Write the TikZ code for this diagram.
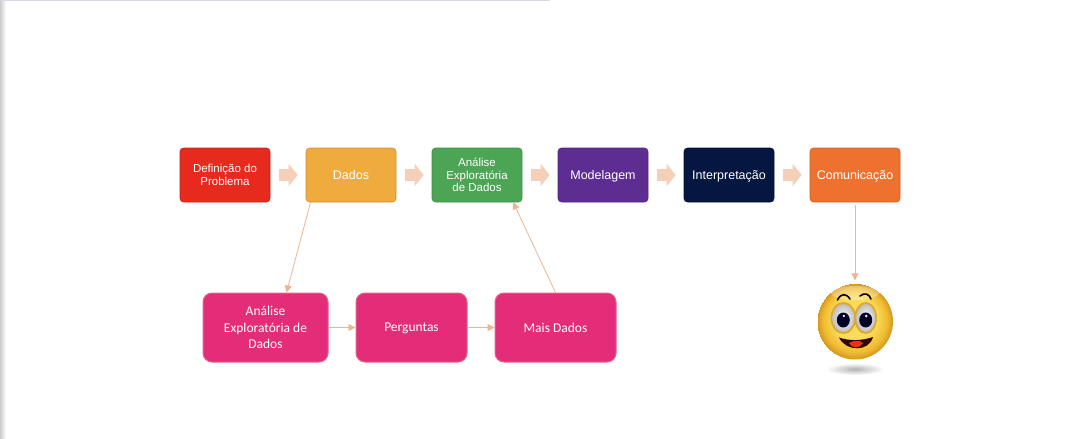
\documentclass[tikz,border=0pt]{standalone}
\usepackage{fontspec}
\setmainfont{Liberation Sans}
\newfontfamily\bottomfont{Carlito}
\usepackage{xcolor}
\usetikzlibrary{
    arrows.meta,
    shapes.geometric
}
\definecolor{boxred}{HTML}{E62A1E}
\definecolor{boxyellow}{HTML}{F0AB3F}
\definecolor{boxgreen}{HTML}{4CA455}
\definecolor{boxpurple}{HTML}{5E2D91}
\definecolor{boxnavy}{HTML}{051641}
\definecolor{boxorange}{HTML}{EE7130}
\definecolor{boxpink}{HTML}{E32D78}
\definecolor{peach}{HTML}{F6CFB8}
\definecolor{linepeach}{HTML}{EBB592}
\definecolor{ballmid}{HTML}{FADC5A}
\definecolor{ballout}{HTML}{F0BC32}
\definecolor{ballrim}{HTML}{D3961E}
\definecolor{eyerim}{HTML}{DDA92F}
\pgfdeclareradialshading{smileyball}{\pgfpoint{0bp}{5bp}}{
    color(0bp)=(ballmid);
    color(14bp)=(ballmid);
    color(21bp)=(ballout);
    color(25bp)=(ballrim)
}

\begin{document}
\begin{tikzpicture}[
    x=1pt, y=-1pt,
    stepbox/.style={rectangle, rounded corners=3.5pt, draw=#1!85!black, fill=#1, line width=0.6pt,
        text=white, align=center, minimum width=90pt, minimum height=54pt, inner sep=0pt,
        font=\fontsize{11.5}{12.5}\selectfont},
    oneline/.style={font=\fontsize{12.5}{13}\selectfont, text height=9pt, text depth=1pt},
    pinkbox/.style={rectangle, rounded corners=9pt, draw=boxpink!60!linepeach, fill=boxpink, line width=1pt,
        text=white, align=center, minimum height=69pt, inner sep=0pt,
        font=\bottomfont\fontsize{13.5}{16.5}\selectfont},
    blockarrow/.style={-{Triangle[length=9pt, width=22pt]}, line width=12pt, draw=peach,
        shorten <=9pt, shorten >=8pt},
    thinarrow/.style={-{Triangle[length=7pt, width=7pt]}, draw=linepeach, line width=0.8pt}
]
\useasboundingbox (0,0) rectangle (1071,439);

% Edge of the screenshot
\shade[left color=black!20, right color=white] (0,0) rectangle (6,439);
\fill[blue!30!black!15] (0,0) rectangle (550,1);

% Top row
\node[stepbox=boxred] (step-1) at (225, 175) {Definição do\\Problema};
\node[stepbox=boxyellow, oneline] (step-2) at (351, 175) {Dados};
\node[stepbox=boxgreen] (step-3) at (477, 175) {Análise\\Exploratória\\de Dados};
\node[stepbox=boxpurple, oneline] (step-4) at (603, 175) {Modelagem};
\node[stepbox=boxnavy, oneline] (step-5) at (729, 175) {Interpretação};
\node[stepbox=boxorange, oneline] (step-6) at (855, 175) {Comunicação};

% Bottom row
\node[pinkbox, minimum width=125pt] (explore) at (265.5, 327.5) {Análise\\Exploratória de\\Dados};
\node[pinkbox, minimum width=111pt, text depth=0pt] (questions) at (411.5, 327.5) {Perguntas};
\node[pinkbox, minimum width=121pt] (more) at (555.5, 327.5) {Mais Dados};

% Smiley
\node[circle, minimum size=76pt, inner sep=0pt, shading=smileyball] (smiley) at (855, 321.5) {};
\shade[inner color=black!30, outer color=white] (855, 369) ellipse (29 and 6);
\fill[white, opacity=0.3] (855, 293) ellipse (24 and 7);
\foreach \ex/\rx in {843.3/11, 865.7/9.5} {
    \fill[eyerim] (\ex, 318) ellipse ({\rx+1.8} and 16);
    \shade[inner color=white, outer color=black!25] (\ex, 318) ellipse ({\rx} and 14);
    \fill[black!85!blue] (\ex, 320) ellipse (6.5 and 7.5);
    \fill[white] (\ex+0.5, 316) circle (1.3);
}
\draw[line width=1.6pt, line cap=round] (837.5, 300) .. controls (841, 293) and (846, 293) .. (850, 299);
\draw[line width=1.6pt, line cap=round] (860, 296) .. controls (865, 292) and (869, 294) .. (871, 299);
\fill[black!80!red] (839, 337.5) .. controls (848, 341) and (862, 341) .. (873, 337)
    .. controls (869, 352) and (846, 352) .. (839, 337.5);
\fill[red!60!brown] (849, 343) .. controls (854, 340) and (860, 340) .. (863, 343)
    .. controls (860, 349) and (852, 349) .. (849, 343);

% Connections
\foreach \i/\j in {1/2, 2/3, 3/4, 4/5, 5/6} {
    \draw[blockarrow] (step-\i) -- (step-\j);
}
\draw[thinarrow] (step-2.214) -- (explore.59);
\draw[thinarrow] (explore) -- (questions);
\draw[thinarrow] (questions) -- (more);
\draw[thinarrow] (more.north) -- (step-3.323);
\draw[thinarrow, shorten <=3pt, shorten >=3pt] (step-6) -- (smiley);

\end{tikzpicture}
\end{document}
